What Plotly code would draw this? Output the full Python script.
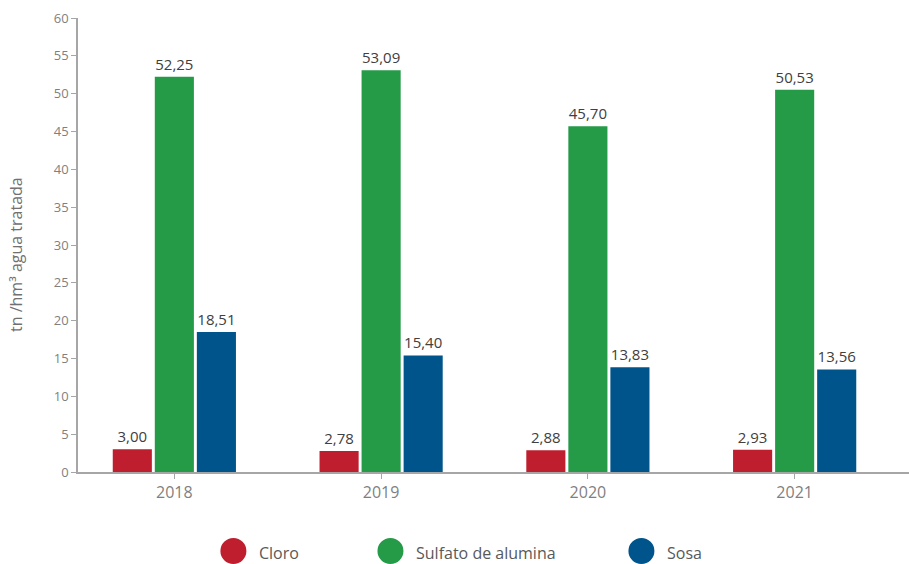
import plotly.graph_objects as go

# Consumo de reactivos por volumen de agua tratada
years = ["2018", "2019", "2020", "2021"]
series_names = ["Cloro", "Sulfato de alumina", "Sosa"]
cloro = [3.00, 2.78, 2.88, 2.93]
sulfato = [52.25, 53.09, 45.70, 50.53]
sosa = [18.51, 15.40, 13.83, 13.56]
colors = ["#BE1E2D", "#259B48", "#00548C"]

y_ticks = list(range(0, 61, 5))
y_title = "tn /hm³ agua tratada"

font_family = "Open Sans, Noto Sans, sans-serif"

fig = go.Figure()
for name, vals, col in zip(series_names, [cloro, sulfato, sosa], colors):
    fig.add_trace(go.Bar(
        x=years, y=vals, name=name,
        marker=dict(color=col, line=dict(width=0)),
        texttemplate="%{y:.2f}", textposition="outside",
        textfont=dict(size=15, color="#404040", family=font_family),
        constraintext="none", cliponaxis=False,
        showlegend=False,
    ))

# Legend drawn as large circles with labels below the plot
legend_x = [0.187, 0.376, 0.678]
for name, col, lx in zip(series_names, colors, legend_x):
    fig.add_shape(
        type="circle", xref="paper", yref="paper",
        xsizemode="pixel", ysizemode="pixel",
        xanchor=lx, yanchor=-0.174,
        x0=-13, x1=13, y0=-13, y1=13,
        fillcolor=col, line=dict(width=0),
    )
    fig.add_annotation(
        x=lx, y=-0.174, xref="paper", yref="paper",
        xshift=24, xanchor="left", yanchor="middle", yshift=-2,
        text=name, showarrow=False,
        font=dict(size=16, color="#595959", family=font_family),
    )

# Y-axis title, placed in pixels from the left edge of the plot area
fig.add_annotation(
    x=0, y=0.478, xref="paper", yref="paper", xshift=16 - 78,
    text=y_title, textangle=-90, showarrow=False,
    xanchor="center", yanchor="middle",
    font=dict(size=16, color="#707070", family=font_family),
)

fig.update_layout(
    width=909, height=564,
    margin=dict(l=78, r=0, t=18, b=92),
    paper_bgcolor="white", plot_bgcolor="white",
    barmode="group", bargap=0.39, bargroupgap=0.07,
    separators=",.",
    font=dict(family=font_family),
    xaxis=dict(
        type="category", range=[-0.466, 3.553],
        showline=True, linecolor="#a6a6a6", linewidth=1.5,
        ticks="outside", ticklen=5, tickcolor="#a6a6a6",
        tickfont=dict(size=16, color="#7f7f7f"),
        showgrid=False, zeroline=False,
    ),
    yaxis=dict(
        range=[0, 60], tickvals=y_ticks,
        showline=True, linecolor="#a6a6a6", linewidth=1.5,
        ticks="outside", ticklen=5, tickcolor="#a6a6a6",
        tickfont=dict(size=13, color="#7f7f7f"),
        showgrid=False, zeroline=False,
    ),
)

fig.write_html("out.html")
